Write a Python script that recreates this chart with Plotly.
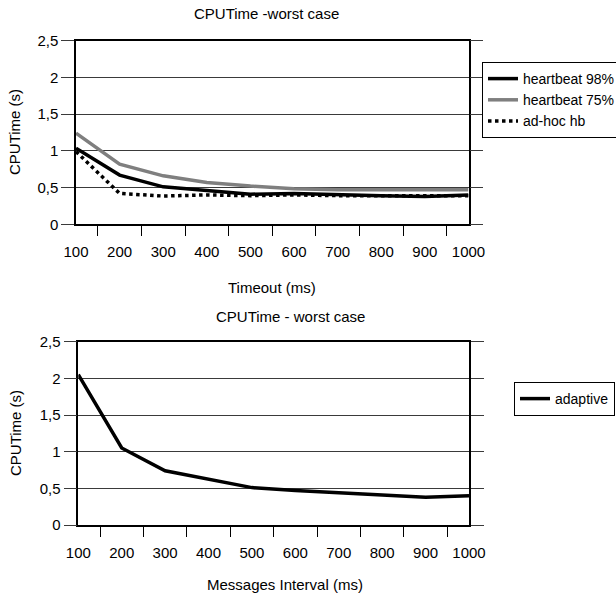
import plotly.graph_objects as go

# ---- data ----
intervals = [100, 200, 300, 400, 500, 600, 700, 800, 900, 1000]
tick_labels = ["100", "200", "300", "400", "500", "600", "700", "800", "900", "1000"]
between_ticks = [150, 250, 350, 450, 550, 650, 750, 850, 950]
y_ticks = [0, 0.5, 1, 1.5, 2, 2.5]
y_tick_labels = ["0", "0,5", "1", "1,5", "2", "2,5"]

hb98 = [1.035, 0.67, 0.51, 0.46, 0.41, 0.42, 0.40, 0.39, 0.38, 0.40]
hb75 = [1.24, 0.82, 0.66, 0.57, 0.52, 0.485, 0.47, 0.47, 0.47, 0.47]
adhoc = [0.99, 0.42, 0.385, 0.40, 0.39, 0.40, 0.39, 0.39, 0.40, 0.39]
adaptive = [2.05, 1.05, 0.74, 0.63, 0.51, 0.47, 0.44, 0.405, 0.38, 0.40]

W, H = 616, 598
FONT = "Liberation Sans, Arial, sans-serif"
GRID = "#3a3a3a"

fig = go.Figure()
fig.add_trace(go.Scatter(x=intervals, y=hb98, name="heartbeat 98%", mode="lines",
                         line=dict(color="black", width=3.5), xaxis="x", yaxis="y",
                         legend="legend"))
fig.add_trace(go.Scatter(x=intervals, y=hb75, name="heartbeat 75%", mode="lines",
                         line=dict(color="#7f7f7f", width=3.5), xaxis="x", yaxis="y",
                         legend="legend"))
fig.add_trace(go.Scatter(x=intervals, y=adhoc, name="ad-hoc hb", mode="lines",
                         line=dict(color="black", width=3.5, dash="dot"), xaxis="x", yaxis="y",
                         legend="legend"))
fig.add_trace(go.Scatter(x=intervals, y=adaptive, name="adaptive", mode="lines",
                         line=dict(color="black", width=3.5), xaxis="x2", yaxis="y2",
                         legend="legend2"))


def xax(domain, anchor):
    return dict(domain=domain, anchor=anchor, range=[100, 1000], automargin=False,
                tickmode="array", tickvals=intervals, ticktext=tick_labels,
                ticks="", ticklabelstandoff=13, showgrid=False, zeroline=False,
                showline=True, linecolor="black", linewidth=1.5, mirror=True,
                minor=dict(tickmode="array", tickvals=between_ticks, ticks="outside",
                           ticklen=10, tickwidth=1, tickcolor="black", showgrid=False),
                tickfont=dict(size=15, color="black", family=FONT))


def yax(domain, anchor):
    return dict(domain=domain, anchor=anchor, range=[0, 2.5], automargin=False,
                tickmode="array", tickvals=y_ticks, ticktext=y_tick_labels,
                ticks="outside", ticklen=13, tickwidth=1, tickcolor=GRID,
                showgrid=True, gridcolor=GRID, gridwidth=1, zeroline=False,
                showline=True, linecolor="black", linewidth=1.5, mirror="ticks",
                tickfont=dict(size=15, color="black", family=FONT))


fig.update_layout(
    width=W, height=H,
    margin=dict(l=0, r=0, t=0, b=0, autoexpand=False),
    paper_bgcolor="white", plot_bgcolor="white",
    font=dict(family=FONT, size=15, color="black"),
    xaxis=xax([76 / W, 468.5 / W], "y"),
    yaxis=yax([1 - 224.3 / H, 1 - 40.7 / H], "x"),
    xaxis2=xax([78.3 / W, 469 / W], "y2"),
    yaxis2=yax([1 - 525 / H, 1 - 341.7 / H], "x2"),
    legend=dict(x=482 / W, y=1 - 62 / H, xanchor="left", yanchor="top",
                bordercolor="black", borderwidth=1, bgcolor="white",
                font=dict(size=14, family=FONT, color="black"), itemwidth=30),
    legend2=dict(x=514 / W, y=1 - 382 / H, xanchor="left", yanchor="top",
                 bordercolor="black", borderwidth=1, bgcolor="white",
                 font=dict(size=14, family=FONT, color="black"), itemwidth=30),
    showlegend=True,
)

annos = [
    dict(text="CPUTime -worst case", x=266 / W, y=1 - 14 / H),
    dict(text="Timeout (ms)", x=272 / W, y=1 - 287 / H),
    dict(text="CPUTime - worst case", x=290 / W, y=1 - 316 / H),
    dict(text="Messages Interval (ms)", x=285 / W, y=1 - 584 / H),
    dict(text="CPUTime (s)", x=15 / W, y=1 - 132 / H, textangle=-90),
    dict(text="CPUTime (s)", x=15 / W, y=1 - 433 / H, textangle=-90),
]
for a in annos:
    fig.add_annotation(xref="paper", yref="paper", showarrow=False,
                       xanchor="center", yanchor="middle",
                       font=dict(size=15, family=FONT, color="black"), **a)

fig.write_html("out.html", config={"displayModeBar": False},
               post_script="document.body.style.margin='0';document.body.style.overflow='hidden';")
